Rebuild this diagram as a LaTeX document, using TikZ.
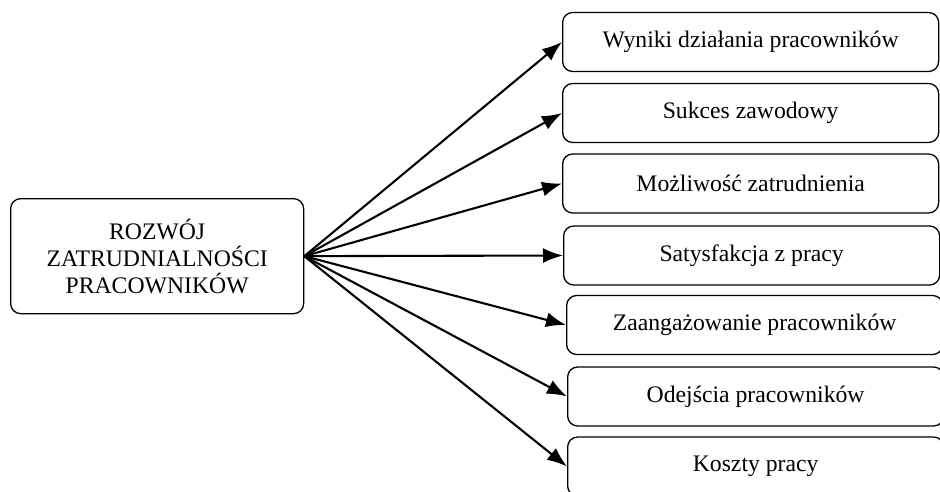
\documentclass[tikz,border=0pt]{standalone}
\usepackage{fontspec}
\setmainfont{Liberation Serif}
\usetikzlibrary{arrows.meta}

\begin{document}
\begin{tikzpicture}[x=1pt,y=-1pt,
  boks/.style={draw,line width=1.3pt,rounded corners=10pt,minimum width=376pt,minimum height=59pt,
    inner sep=0pt,font=\fontsize{23.7}{27}\selectfont,align=center},
  strz/.style={-{Latex[length=20pt,width=15pt]},line width=2.1pt}]
\useasboundingbox (0,0) rectangle (940,492);
\node[boks,minimum width=293pt,minimum height=115pt,anchor=north west] (z) at (10,198)
  {ROZWÓJ\\ZATRUDNIALNOŚCI\\PRACOWNIKÓW};
\foreach \i/\x/\y/\t in {1/562/42/Wyniki działania pracowników,2/562/113/Sukces zawodowy,
  3/562/183.5/Możliwość zatrudnienia,4/563/255.5/Satysfakcja z pracy,
  5/566/325/Zaangażowanie pracowników,6/567/396.5/Odejścia pracowników,
  7/567/466.5/Koszty pracy}{
\node[boks,anchor=west] (e\i) at (\x,\y){\t};\draw[strz] (z.east)--(e\i.west);}
\end{tikzpicture}
\end{document}
